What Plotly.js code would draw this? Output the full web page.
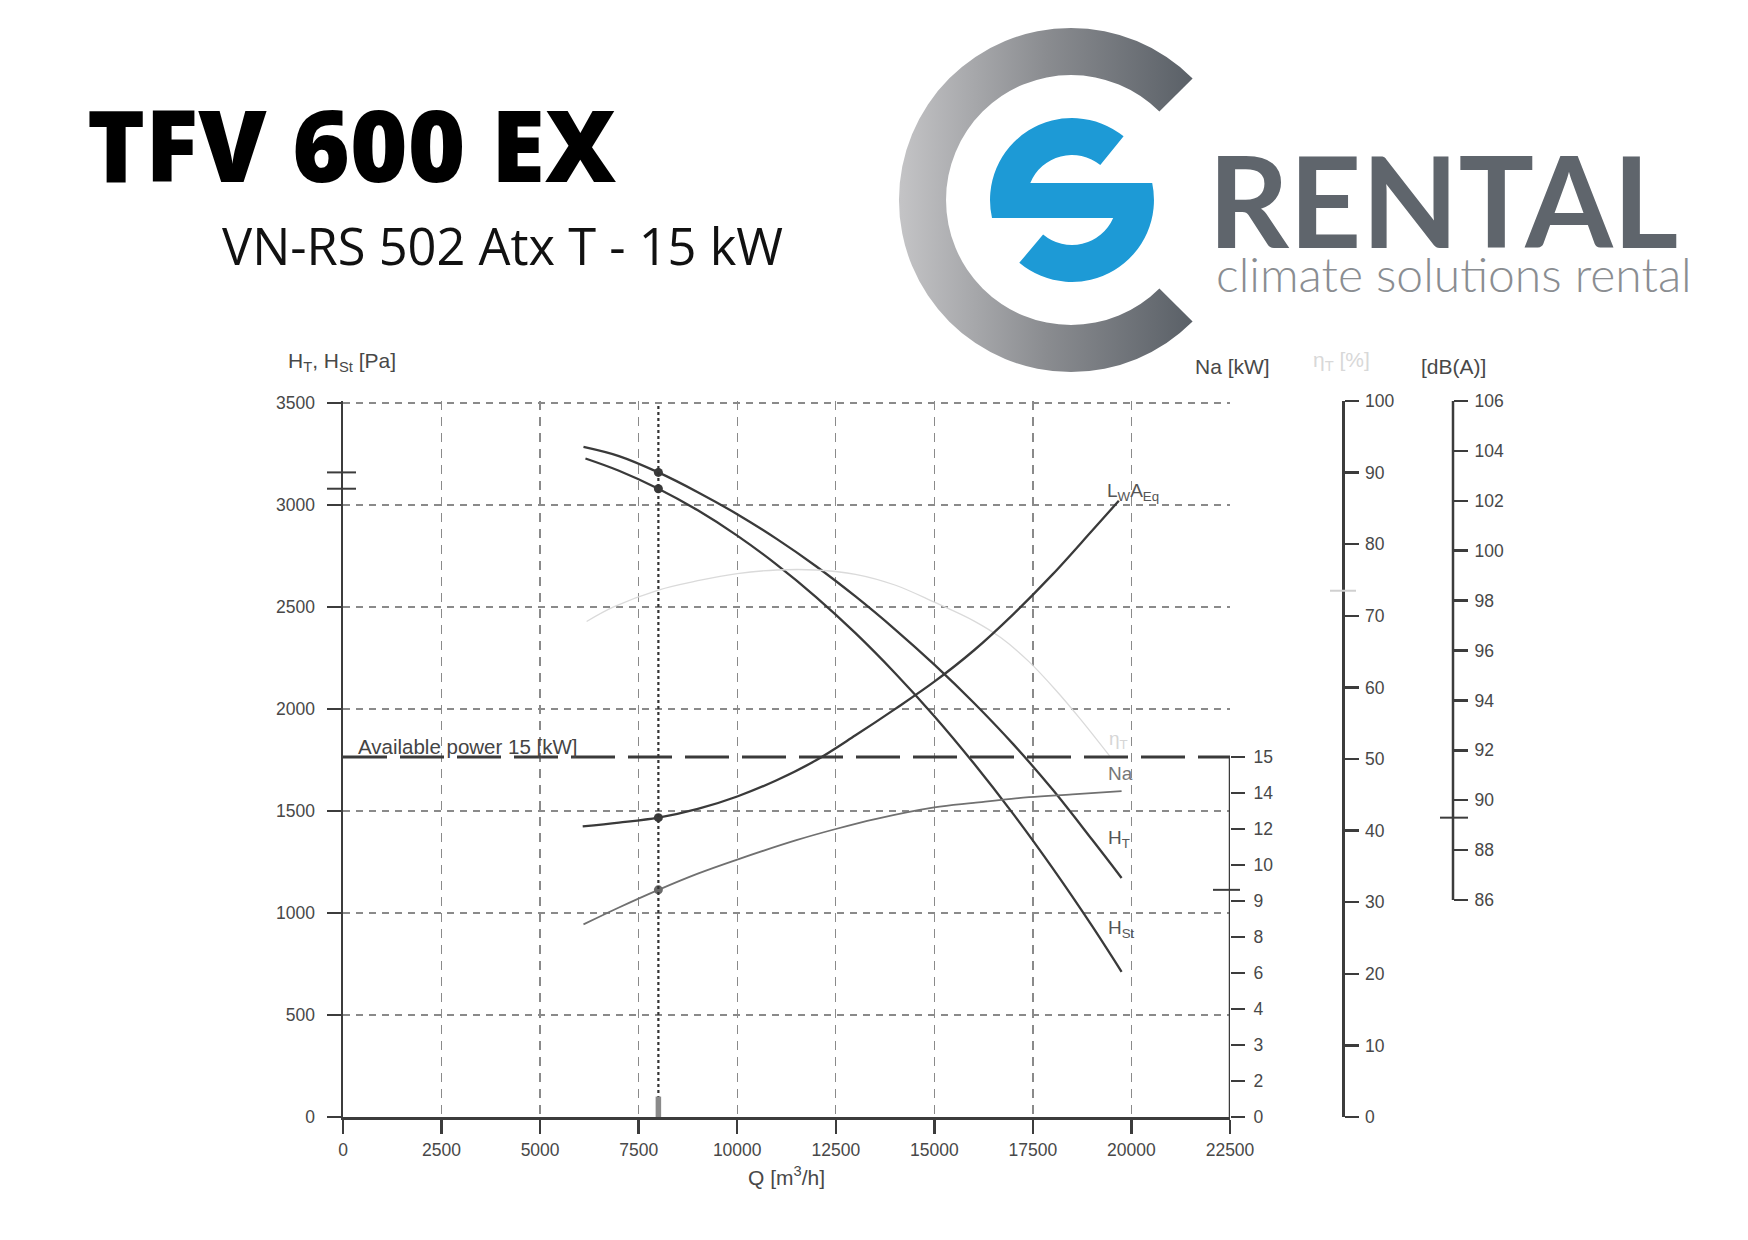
<!DOCTYPE html>
<html><head><meta charset="utf-8">
<script src="https://cdn.plot.ly/plotly-3.0.1.min.js"></script>
<style>html,body{margin:0;padding:0;background:#fff}#chart{width:1748px;height:1240px}</style>
</head><body><div id="chart"></div>
<script>
// ---- data ----
const xTicks = [0, 2500, 5000, 7500, 10000, 12500, 15000, 17500, 20000, 22500];
const paTicks = [0, 500, 1000, 1500, 2000, 2500, 3000, 3500];
const naTickLabels = [0, 2, 3, 4, 6, 8, 9, 10, 12, 14, 15];
const etaTicks = [0, 10, 20, 30, 40, 50, 60, 70, 80, 90, 100];
const dbTicks = [86, 88, 90, 92, 94, 96, 98, 100, 102, 104, 106];

const Q_HT = [6100, 7000, 8000, 9000, 10000, 11000, 12000, 13000, 14000, 15000, 16000, 17000, 18000, 19000, 19750];
const HT   = [3285, 3240, 3160, 3063, 2955, 2834, 2700, 2552, 2391, 2218, 2031, 1828, 1605, 1360, 1172];

const Q_HSt = [6150, 7000, 8000, 9000, 10000, 11000, 12000, 13000, 14000, 15000, 16000, 17000, 18000, 19000, 19750];
const HSt   = [3228, 3168, 3080, 2974, 2850, 2708, 2549, 2372, 2177, 1965, 1734, 1486, 1220, 937, 712];

const Q_LwA = [6080, 7000, 8000, 9000, 10000, 11000, 12000, 13000, 14000, 15000, 16000, 17000, 18000, 19000, 19680];
const LwA   = [88.95, 89.1, 89.3, 89.65, 90.15, 90.8, 91.6, 92.6, 93.65, 94.75, 96.0, 97.45, 99.05, 100.8, 102.0];

const Q_Na = [6100, 7000, 8000, 9000, 10000, 11500, 12500, 13500, 15000, 16000, 17400, 18500, 19750];
const Na   = [8.35, 8.82, 9.31, 9.76, 10.3, 11.38, 12.0, 12.55, 13.2, 13.45, 13.77, 13.92, 14.05];

const Q_Eta = [6180, 6850, 8000, 9000, 10000, 11000, 12000, 13000, 14000, 15000, 16000, 16700, 17400, 18100, 18700, 19450];
const Eta   = [69.2, 71.2, 73.6, 74.9, 75.9, 76.4, 76.4, 75.8, 74.3, 71.9, 69.3, 66.9, 63.6, 59.5, 55.6, 50.4];

const Q_op = 8000, HT_op = 3160, HSt_op = 3080, LwA_op = 89.3, Na_op = 9.31, Eta_op = 73.5;
const Na_available = 15;

// ---- helpers ----
const W = 1748, H = 1240;
const px = x => x / W, py = y => 1 - y / H;
// Na scale: tick labels sit at evenly spaced positions
function naPos(kw) {
  for (let i = 0; i < naTickLabels.length - 1; i++) {
    if (kw <= naTickLabels[i + 1]) return i + (kw - naTickLabels[i]) / (naTickLabels[i + 1] - naTickLabels[i]);
  }
  return naTickLabels.length - 1;
}

const AX = '#3c3c3c', TXT = '#484848', GRID = '#8a8a8a';
const tf = {family: 'Liberation Sans, Arial, sans-serif', size: 17.5, color: TXT};

const lineTrace = (x, y, ya, color, width) => ({
  x, y, type: 'scatter', mode: 'lines', xaxis: 'x', yaxis: ya,
  line: {color, width, shape: 'spline', smoothing: 1}, hoverinfo: 'skip', showlegend: false
});
const dot = (y, ya, color) => ({
  x: [Q_op], y: [y], type: 'scatter', mode: 'markers', xaxis: 'x', yaxis: ya,
  marker: {size: 9, color}, hoverinfo: 'skip', showlegend: false
});

const traces = [
  lineTrace(Q_Eta, Eta, 'y3', '#dadada', 1.3),
  lineTrace(Q_Na, Na.map(naPos), 'y2', '#707070', 1.8),
  lineTrace(Q_HT, HT, 'y', '#3a3a3a', 2.3),
  lineTrace(Q_HSt, HSt, 'y', '#3a3a3a', 2.3),
  lineTrace(Q_LwA, LwA, 'y4', '#3a3a3a', 2.3),
  dot(HT_op, 'y', '#3a3a3a'),
  dot(HSt_op, 'y', '#3a3a3a'),
  dot(LwA_op, 'y4', '#3a3a3a'),
  dot(naPos(Na_op), 'y2', '#6a6a6a')
];

// ---- logo (decoration) ----
const logoSvg = '<svg xmlns="http://www.w3.org/2000/svg" width="1748" height="1240" viewBox="0 0 1748 1240">' +
 '<defs><linearGradient id="g" x1="899" y1="0" x2="1193" y2="0" gradientUnits="userSpaceOnUse">' +
 '<stop offset="0" stop-color="#c4c4c6"/><stop offset="0.5" stop-color="#8a8c90"/><stop offset="1" stop-color="#5a6067"/></linearGradient></defs>' +
 '<path d="M1192.6 78.4 A172 172 0 1 0 1192.6 321.6 L1159.4 288.4 A125 125 0 1 1 1159.4 111.6 Z" fill="url(#g)"/>' +
 '<path d="M1123.6 136.3 A82 82 0 0 0 992 218 L1113.2 218 A45 45 0 0 1 1043.1 234.5 L1019.3 262.8 A82 82 0 0 0 1152.2 183 L1030.3 183 A45 45 0 0 1 1100.3 165 Z" fill="#1d9ad6"/>' +
 '</svg>';

const ann = (text, x, y, size, color, opts) => Object.assign({
  text, x: px(x), y: py(y), xref: 'paper', yref: 'paper', showarrow: false,
  xanchor: 'center', yanchor: 'middle',
  font: {family: 'Liberation Sans, Arial, sans-serif', size, color}
}, opts || {});

const annotations = [
  ann('TFV 600 EX', 85, 144, 98.5, '#000', {xanchor: 'left', font: {family: 'Open Sans', size: 98.5, color: '#000', weight: 800}}),
  ann('VN-RS 502 Atx T - 15 kW', 220, 246, 50.6, '#111', {xanchor: 'left', font: {family: 'Open Sans', size: 50.6, color: '#111'}}),
  ann('RENTAL', 1206, 199, 126, '#5f656c', {xanchor: 'left', height: 118, valign: 'middle', font: {family: 'Lato', size: 126, color: '#5f656c', weight: 700}}),
  ann('climate solutions rental', 1214, 273, 48, '#8a8d91', {xanchor: 'left', height: 38, valign: 'middle', font: {family: 'Lato', size: 48, color: '#8a8d91', weight: 300}}),
  ann('H<sub>T</sub>, H<sub>St</sub> [Pa]', 286, 362, 21, TXT, {xanchor: 'left'}),
  ann('Na [kW]', 1232, 367, 21, TXT),
  ann('η<sub>T</sub> [%]', 1341, 361, 21, '#d8d8d8'),
  ann('[dB(A)]', 1453, 366, 21, TXT),
  ann('Available power 15 [kW]', 356, 746, 20.5, '#444', {xanchor: 'left'}),
  ann('L<sub>W</sub>A<sub>Eq</sub>', 1133, 492, 19, '#555'),
  ann('η<sub>T</sub>', 1118, 740, 19, '#d6d6d6'),
  ann('Na', 1120, 773, 19, '#777'),
  ann('H<sub>T</sub>', 1119, 839, 19, '#555'),
  ann('H<sub>St</sub>', 1121, 929, 19, '#555')
];

const axisMark = (yref, yv, x0, x1, color) => ({
  type: 'line', xref: 'paper', yref, x0: px(x0), x1: px(x1), y0: yv, y1: yv,
  line: {color: color || AX, width: 2}
});

const shapes = [
  // available power line (15 kW on the Na scale)
  {type: 'line', xref: 'x', yref: 'y2', x0: 0, x1: 22500, y0: naPos(Na_available), y1: naPos(Na_available),
   line: {color: '#3a3a3a', width: 2.8, dash: '44px,13px'}},
  // Na axis line (0..15 kW)
  {type: 'line', xref: 'x', yref: 'y2', x0: 22500, x1: 22500, y0: 0, y1: naPos(Na_available), line: {color: AX, width: 2.5}},
  // dB axis line (86..106)
  {type: 'line', xref: 'paper', yref: 'y4', x0: px(1453), x1: px(1453), y0: dbTicks[0], y1: dbTicks[dbTicks.length - 1], line: {color: AX, width: 2.5}},
  // operating point vertical
  {type: 'line', xref: 'x', yref: 'y', x0: Q_op, x1: Q_op, y0: 0, y1: 3500, line: {color: '#333', width: 2.2, dash: 'dot'}},
  {type: 'rect', xref: 'x', yref: 'y', x0: Q_op - 70, x1: Q_op + 70, y0: -85, y1: 100, fillcolor: '#8a8a8a', line: {width: 0}},
  // operating-point marks on each scale
  axisMark('y', HT_op, 327, 356),
  axisMark('y', HSt_op, 327, 356),
  axisMark('y2', naPos(Na_op), 1213, 1240),
  axisMark('y3', Eta_op, 1330, 1356, '#d0d0d0'),
  axisMark('y4', LwA_op, 1440, 1468)
];

const baseAxis = {
  showline: true, linecolor: AX, linewidth: 2.5, ticks: 'outside', ticklen: 14, tickwidth: 2.5, tickcolor: AX,
  zeroline: false, tickfont: tf, fixedrange: true
};

const layout = {
  width: W, height: H, margin: {l: 0, r: 0, t: 0, b: 0},
  paper_bgcolor: '#fff', plot_bgcolor: 'rgba(0,0,0,0)', showlegend: false,
  xaxis: Object.assign({}, baseAxis, {
    domain: [px(343), px(1230)], range: [0, 22500], tickmode: 'array', tickvals: xTicks,
    ticktext: xTicks.map(String),
    showgrid: true, gridcolor: GRID, gridwidth: 1.4, griddash: '9px,7px', anchor: 'y',
    ticklabelstandoff: 1,
    title: {text: 'Q [m<sup>3</sup>/h]', font: {family: 'Liberation Sans, Arial, sans-serif', size: 21, color: TXT}, standoff: 12}
  }),
  yaxis: Object.assign({}, baseAxis, {
    domain: [py(1117), py(401)], range: [0, 3510], tickmode: 'array', tickvals: paTicks,
    showgrid: true, gridcolor: GRID, gridwidth: 1.4, griddash: '7px,6px', anchor: 'x', ticklabelstandoff: 8
  }),
  yaxis2: Object.assign({}, baseAxis, {
    overlaying: 'y', side: 'right', anchor: 'x', showline: false, showgrid: false,
    range: [0, 716 / 36], tickmode: 'array', tickvals: naTickLabels.map((v, i) => i),
    ticktext: naTickLabels.map(String), ticklabelstandoff: 5
  }),
  yaxis3: Object.assign({}, baseAxis, {
    overlaying: 'y', side: 'right', anchor: 'free', position: px(1343), showgrid: false,
    range: [0, 100], tickmode: 'array', tickvals: etaTicks, ticklabelstandoff: 3
  }),
  yaxis4: Object.assign({}, baseAxis, {
    overlaying: 'y', side: 'right', anchor: 'free', position: px(1453), showline: false, showgrid: false,
    range: [86 - 217 / 24.95, 106], tickmode: 'array', tickvals: dbTicks, ticklabelstandoff: 3
  }),
  images: [{source: 'data:image/svg+xml;charset=utf-8,' + encodeURIComponent(logoSvg), xref: 'paper', yref: 'paper',
    x: 0, y: 1, sizex: 1, sizey: 1, xanchor: 'left', yanchor: 'top', sizing: 'stretch', layer: 'below'}],
  annotations, shapes
};

Plotly.newPlot('chart', traces, layout, {staticPlot: true, displayModeBar: false});
</script>
</body></html>
